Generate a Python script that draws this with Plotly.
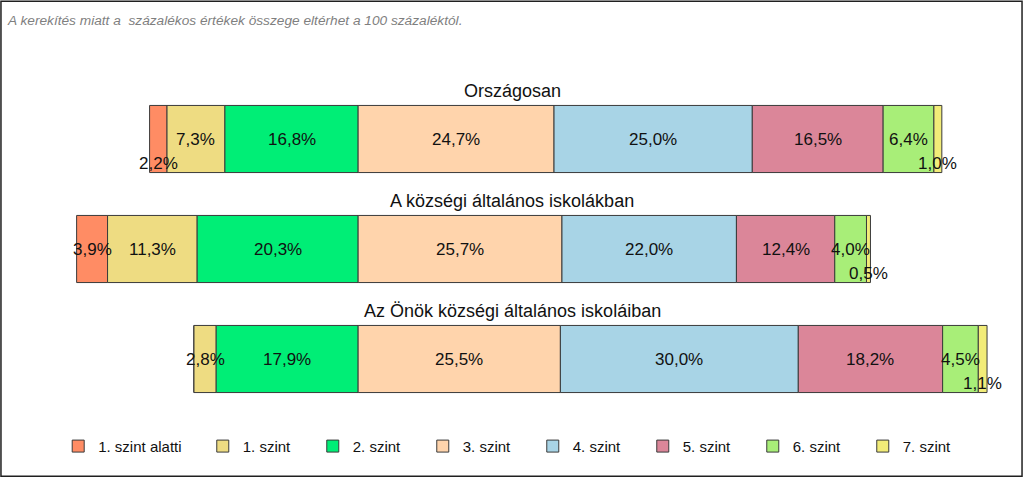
import numpy as np
import plotly.graph_objects as go

# szintek és adatok
szintek = ['1. szint alatti', '1. szint', '2. szint', '3. szint',
           '4. szint', '5. szint', '6. szint', '7. szint']
szinek = ['#FF8C64', '#EEDC82', '#00EE76', '#FFD4AC',
          '#A8D4E6', '#DB8699', '#A8EE78', '#F2EC78']
csoportok = ['Országosan', 'A községi általános iskolákban',
             'Az Önök községi általános iskoláiban']
orszagos = [2.2, 7.3, 16.8, 24.7, 25.0, 16.5, 6.4, 1.0]
kozsegi = [3.9, 11.3, 20.3, 25.7, 22.0, 12.4, 4.0, 0.5]
onok = [0.0, 2.8, 17.9, 25.5, 30.0, 18.2, 4.5, 1.1]

adat = np.array([orszagos, kozsegi, onok])
# a 2. és 3. szint határa kerül a nullára
kezdet = -adat[:, :3].sum(axis=1)
alap = kezdet[:, None] + np.hstack([np.zeros((3, 1)), np.cumsum(adat, axis=1)[:, :-1]])

ypos = [0, 1, 2]
fig = go.Figure()
for j, nev in enumerate(szintek):
    fig.add_trace(go.Bar(
        y=ypos, x=adat[:, j], base=alap[:, j], orientation='h',
        name=nev, marker=dict(color=szinek[j], line=dict(color='#3a3a3a', width=1)),
        width=0.61, hoverinfo='x+name', showlegend=True,
        legend='legend' if j == 0 else 'legend2'))

annot = []
for i in range(3):
    for j in range(8):
        v = adat[i, j]
        if v <= 0:
            continue
        dy = 0.22 if v < 2.5 else 0
        annot.append(dict(x=alap[i, j] + v / 2, y=ypos[i] + dy, xref='x', yref='y',
                          text=f'{v:.1f}%'.replace('.', ','), showarrow=False,
                          font=dict(size=17, color='#111111')))
    annot.append(dict(x=0.5, y=ypos[i] - 0.44, xref='paper', yref='y', text=csoportok[i],
                      showarrow=False, font=dict(size=18, color='#111111')))

annot.append(dict(x=-0.005, y=1.22, xref='paper', yref='paper', xanchor='left',
                  text='<i>A kerekítés miatt a  százalékos értékek összege eltérhet a 100 százaléktól.</i>',
                  showarrow=False, font=dict(size=13.7, color='#7f7f7f')))

leg = dict(orientation='h', y=-0.098, xanchor='left', yanchor='middle',
           font=dict(size=15, color='#111111'), traceorder='normal')

fig.update_layout(
    width=1024, height=478,
    margin=dict(l=10, r=10, t=84, b=64),
    barmode='overlay',
    plot_bgcolor='white', paper_bgcolor='white',
    font=dict(family='Liberation Sans, Arial, sans-serif'),
    xaxis=dict(range=[-43.9, 82.7], visible=False, fixedrange=True),
    yaxis=dict(range=[2.5, -0.5], visible=False, fixedrange=True),
    legend=dict(leg, x=0.048),
    legend2=dict(leg, x=0.192, entrywidth=65),
    annotations=annot,
    shapes=[dict(type='rect', xref='paper', yref='paper',
                 x0=-0.009, x1=1.008, y0=-0.189, y1=1.251,
                 line=dict(color='#202020', width=1.5))],
)

fig.write_html('out.html', config={'displayModeBar': False},
               post_script="document.body.style.margin='0';")
